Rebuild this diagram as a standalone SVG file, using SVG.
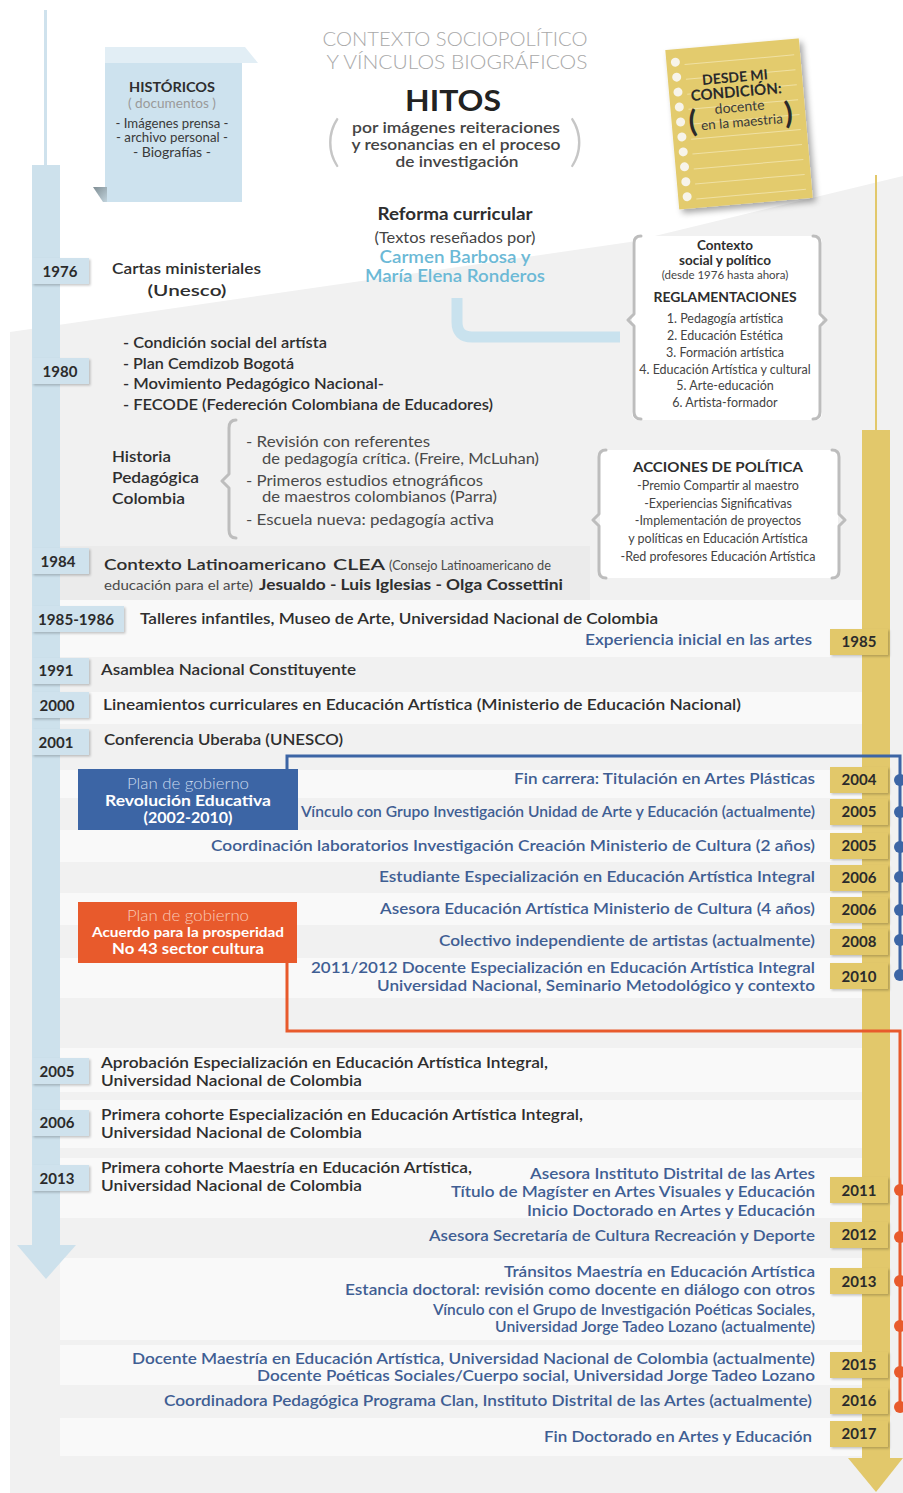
<svg xmlns="http://www.w3.org/2000/svg" width="903" height="1493" viewBox="0 0 903 1493">
<defs>
<style>
text{font-family:Lato,"Open Sans","Liberation Sans",sans-serif}
.dk{fill:#2e2e2e;font-weight:700;font-size:15.5px}
.md{fill:#2e2e2e;font-weight:600;font-size:15.5px}
.gr{fill:#4a4a4a;font-size:15.5px}
.sm{fill:#4a4a4a;font-size:13px}
.bl{fill:#3f5e93;font-weight:600;font-size:15.5px;text-anchor:end}
.yr{font-size:15px;font-weight:700;fill:#2b2b2b;text-anchor:middle}
.ybl{fill:#cfe2ed}
.yye{fill:#e2c86b}
.c{text-anchor:middle}
.brace{fill:none;stroke:#bdbdbd;stroke-width:3;stroke-linejoin:round;stroke-linecap:round}
.band{fill:#f9f9f9}
.dotb{fill:#3c65a5}
.doto{fill:#e85a2c}
.it{font-size:12.5px;fill:#444;text-anchor:middle}
</style>
<filter id="sh" x="-20%" y="-30%" width="150%" height="180%"><feDropShadow dx="1.5" dy="1.5" stdDeviation="1" flood-color="#000" flood-opacity="0.22"/></filter>
<filter id="nsh" x="-20%" y="-20%" width="150%" height="150%"><feDropShadow dx="3" dy="4" stdDeviation="3" flood-color="#000" flood-opacity="0.35"/></filter>
<linearGradient id="fold" x1="0" y1="0" x2="1" y2="1"><stop offset="0" stop-color="#7f8d93"/><stop offset="1" stop-color="#c2d4dd"/></linearGradient>
</defs>

<rect width="903" height="1493" fill="#ffffff"/>
<g id="background">
<polygon points="10,332 630,242 903,176 903,1493 10,1493" fill="#f1f1f1"/>
<rect x="60" y="546" width="530" height="54" fill="#ebebeb"/>
<rect class="band" x="60" y="600" width="802" height="57"/>
<rect class="band" x="60" y="692" width="802" height="32"/>
<rect class="band" x="60" y="770" width="802" height="28"/>
<rect class="band" x="60" y="830" width="802" height="32"/>
<rect class="band" x="60" y="893" width="802" height="32"/>
<rect class="band" x="60" y="958" width="802" height="40"/>
<rect class="band" x="60" y="1048" width="802" height="44"/>
<rect class="band" x="60" y="1100" width="802" height="48"/>
<rect class="band" x="60" y="1158" width="802" height="60"/>
<rect class="band" x="60" y="1258" width="802" height="82"/>
<rect class="band" x="60" y="1345" width="802" height="40"/>
<rect class="band" x="60" y="1418" width="802" height="38"/>
</g>

<g id="timeline-left">
<rect x="44" y="10" width="3" height="160" fill="#cfe2ed"/>
<rect x="32" y="165" width="28" height="1082" fill="#cde1ec"/>
<polygon points="17,1245 76,1245 46,1279" fill="#cde1ec"/>
</g>
<g id="timeline-right">
<rect x="875" y="175" width="2" height="260" fill="#e2c86b"/>
<rect x="862" y="430" width="28" height="1030" fill="#e2c86b"/>
<polygon points="848,1458 903,1458 876,1492" fill="#e2c86b"/>
</g>

<g id="connectors">
<path d="M457 298 V322 Q457 337 472 337 H620" fill="none" stroke="#c9e2ee" stroke-width="11"/>
<path d="M287 769 V756 H900 V978" fill="none" stroke="#3c65a5" stroke-width="3"/>
<path d="M287 963 V1031 H900 V1412" fill="none" stroke="#e85a2c" stroke-width="3"/>
<circle class="dotb" cx="900" cy="780" r="6"/>
<circle class="dotb" cx="900" cy="812" r="6"/>
<circle class="dotb" cx="900" cy="847" r="6"/>
<circle class="dotb" cx="900" cy="877" r="6"/>
<circle class="dotb" cx="900" cy="910" r="6"/>
<circle class="dotb" cx="900" cy="940" r="6"/>
<circle class="dotb" cx="900" cy="975" r="6"/>
<circle class="doto" cx="900" cy="1190" r="6"/>
<circle class="doto" cx="900" cy="1237" r="6"/>
<circle class="doto" cx="900" cy="1281" r="6"/>
<circle class="doto" cx="900" cy="1326" r="6"/>
<circle class="doto" cx="900" cy="1372" r="6"/>
<circle class="doto" cx="900" cy="1407" r="6"/>
</g>

<g id="historicos">
<polygon points="105,47 245,47 258,63 105,63" fill="#e2eef5"/>
<rect x="105" y="63" width="137" height="139" fill="#cde2ee"/>
<polygon points="93,187 107,187 107,202 103,202" fill="url(#fold)"/>
<text class="c" x="172" y="92" font-size="13.5" font-weight="700" fill="#2e2e2e" lengthAdjust="spacingAndGlyphs" textLength="86">HISTÓRICOS</text>
<text class="c" x="172" y="108" font-size="13" fill="#9a9a9a" lengthAdjust="spacingAndGlyphs" textLength="88">( documentos )</text>
<text class="c" x="172" y="128" font-size="12.5" fill="#3a3a3a" lengthAdjust="spacingAndGlyphs" textLength="113">- Imágenes prensa -</text>
<text class="c" x="172" y="142" font-size="12.5" fill="#3a3a3a" lengthAdjust="spacingAndGlyphs" textLength="112">- archivo personal -</text>
<text class="c" x="172" y="157" font-size="12.5" fill="#3a3a3a" lengthAdjust="spacingAndGlyphs" textLength="78">- Biografías -</text>
</g>

<g id="titulo">
<text class="c" x="455" y="46" font-size="19" font-weight="300" fill="#a9a9a9" lengthAdjust="spacingAndGlyphs" textLength="265">CONTEXTO SOCIOPOLÍTICO</text>
<text class="c" x="457" y="69" font-size="19" font-weight="300" fill="#a9a9a9" lengthAdjust="spacingAndGlyphs" textLength="261">Y VÍNCULOS BIOGRÁFICOS</text>
<text class="c" x="453" y="111" font-size="28" font-weight="700" fill="#222" lengthAdjust="spacingAndGlyphs" textLength="96">HITOS</text>
<text x="326" y="160" font-size="56" font-weight="300" fill="#c6c6c6">(</text>
<text x="569" y="160" font-size="56" font-weight="300" fill="#c6c6c6">)</text>
<text class="c" x="456" y="133" font-size="15.5" font-weight="600" fill="#444" lengthAdjust="spacingAndGlyphs" textLength="208">por  imágenes reiteraciones</text>
<text class="c" x="456" y="150" font-size="15.5" font-weight="600" fill="#444" lengthAdjust="spacingAndGlyphs" textLength="209">y resonancias en el proceso</text>
<text class="c" x="457" y="167" font-size="15.5" font-weight="600" fill="#444" lengthAdjust="spacingAndGlyphs" textLength="123">de investigación</text>
</g>

<g id="reforma">
<text class="c" x="455" y="220" font-size="16.5" font-weight="700" fill="#2e2e2e" lengthAdjust="spacingAndGlyphs" textLength="155">Reforma curricular</text>
<text class="c" x="455" y="243" font-size="15" fill="#444" lengthAdjust="spacingAndGlyphs" textLength="161">(Textos reseñados por)</text>
<text class="c" x="455" y="263" font-size="16.5" font-weight="600" fill="#6cb9d6" lengthAdjust="spacingAndGlyphs" textLength="151">Carmen Barbosa y</text>
<text class="c" x="455" y="282" font-size="16.5" font-weight="600" fill="#6cb9d6" lengthAdjust="spacingAndGlyphs" textLength="180">María Elena Ronderos</text>
</g>

<g id="nota">
<g transform="rotate(-5 738 124)">
<rect x="672" y="44" width="134" height="160" fill="#e3cb6d" filter="url(#nsh)"/>
<g stroke="#efe0a3" stroke-width="1">
<line x1="690" y1="60" x2="800" y2="60"/><line x1="690" y1="75" x2="800" y2="75"/><line x1="690" y1="90" x2="800" y2="90"/><line x1="690" y1="105" x2="800" y2="105"/><line x1="690" y1="120" x2="800" y2="120"/><line x1="690" y1="135" x2="800" y2="135"/><line x1="690" y1="150" x2="800" y2="150"/><line x1="690" y1="165" x2="800" y2="165"/><line x1="690" y1="180" x2="800" y2="180"/><line x1="690" y1="195" x2="800" y2="195"/>
</g>
<g fill="#f7f4ea">
<circle cx="681" cy="57" r="4.5"/><circle cx="681" cy="72" r="4.5"/><circle cx="681" cy="87" r="4.5"/><circle cx="681" cy="102" r="4.5"/><circle cx="681" cy="117" r="4.5"/><circle cx="681" cy="132" r="4.5"/><circle cx="681" cy="147" r="4.5"/><circle cx="681" cy="162" r="4.5"/><circle cx="681" cy="177" r="4.5"/><circle cx="681" cy="192" r="4.5"/>
</g>
<text class="c" x="739" y="82" font-size="14" font-weight="700" fill="#2a2a2a" font-family="'Liberation Serif',serif">DESDE MI</text>
<text class="c" x="739" y="97" font-size="15" font-weight="700" fill="#2a2a2a" font-family="'Liberation Serif',serif">CONDICIÓN:</text>
<text class="c" x="741" y="112" font-size="14" fill="#3a3a3a">docente</text>
<text class="c" x="742" y="127" font-size="13.5" fill="#3a3a3a">en la maestria</text>
<text x="689" y="128" font-size="30" font-weight="700" fill="#2a2a2a">(</text>
<text x="785" y="128" font-size="30" font-weight="700" fill="#2a2a2a">)</text>
</g>
</g>

<g id="contexto">
<rect x="632" y="236" width="190" height="184" rx="6" fill="#ffffff"/>
<path class="brace" d="M641 236 Q634 236 634 243 V314 L628 320 L634 326 V412 Q634 419 641 419"/>
<path class="brace" d="M813 236 Q820 236 820 243 V314 L826 320 L820 326 V412 Q820 419 813 419"/>
<text class="c" x="725" y="250" font-size="13.5" font-weight="700" fill="#2e2e2e">Contexto</text>
<text class="c" x="725" y="265" font-size="13.5" font-weight="700" fill="#2e2e2e">social y político</text>
<text class="c" x="725" y="279" font-size="11.5" fill="#444">(desde 1976 hasta ahora)</text>
<text class="c" x="725" y="302" font-size="14" font-weight="700" fill="#2e2e2e" lengthAdjust="spacingAndGlyphs" textLength="143">REGLAMENTACIONES</text>
<text class="it" x="725" y="323">1. Pedagogía artística</text>
<text class="it" x="725" y="340">2. Educación Estética</text>
<text class="it" x="725" y="357">3. Formación artística</text>
<text class="it" x="725" y="374">4. Educación Artística y cultural</text>
<text class="it" x="725" y="390">5. Arte-educación</text>
<text class="it" x="725" y="407">6. Artista-formador</text>
</g>

<g id="acciones">
<rect x="600" y="450" width="238" height="128" rx="6" fill="#ffffff"/>
<path class="brace" d="M606 450 Q599 450 599 457 V514 L593 520 L599 526 V571 Q599 578 606 578"/>
<path class="brace" d="M832 450 Q839 450 839 457 V514 L845 520 L839 526 V571 Q839 578 832 578"/>
<text class="c" x="718" y="472" font-size="14" font-weight="700" fill="#2e2e2e" lengthAdjust="spacingAndGlyphs" textLength="170">ACCIONES DE POLÍTICA</text>
<text class="it" x="718" y="490">-Premio Compartir al maestro</text>
<text class="it" x="718" y="508">-Experiencias Significativas</text>
<text class="it" x="718" y="525">-Implementación de proyectos</text>
<text class="it" x="718" y="543">y políticas en Educación Artística</text>
<text class="it" x="718" y="561">-Red profesores Educación Artística</text>
</g>

<g id="y1976">
<rect class="ybl" x="32" y="258" width="57" height="26" filter="url(#sh)"/>
<text class="yr" x="60" y="277">1976</text>
<text class="md" x="112" y="274" lengthAdjust="spacingAndGlyphs" textLength="149">Cartas ministeriales</text>
<text class="md c" x="187" y="296" font-size="18" lengthAdjust="spacingAndGlyphs" textLength="79">(Unesco)</text>
</g>
<g id="y1980">
<rect class="ybl" x="32" y="358" width="57" height="26" filter="url(#sh)"/>
<text class="yr" x="60" y="377">1980</text>
<text class="md" x="123" y="348" lengthAdjust="spacingAndGlyphs" textLength="204">- Condición social del artísta</text>
<text class="md" x="123" y="369" lengthAdjust="spacingAndGlyphs" textLength="171">- Plan Cemdizob Bogotá</text>
<text class="md" x="123" y="389" lengthAdjust="spacingAndGlyphs" textLength="261">- Movimiento Pedagógico Nacional-</text>
<text class="md" x="123" y="410" lengthAdjust="spacingAndGlyphs" textLength="370">- FECODE (Federeción Colombiana de Educadores)</text>
</g>
<g id="historia">
<text class="md" x="112" y="462" lengthAdjust="spacingAndGlyphs" textLength="59">Historia</text>
<text class="md" x="112" y="483" lengthAdjust="spacingAndGlyphs" textLength="87">Pedagógica</text>
<text class="md" x="112" y="504" lengthAdjust="spacingAndGlyphs" textLength="73">Colombia</text>
<path class="brace" d="M236 420 Q229 420 229 428 V474 L222 481 L229 488 V530 Q229 538 236 538"/>
<text class="gr" x="246" y="447" lengthAdjust="spacingAndGlyphs" textLength="184">- Revisión con referentes</text>
<text class="gr" x="262" y="464" lengthAdjust="spacingAndGlyphs" textLength="277">de pedagogía crítica. (Freire, McLuhan)</text>
<text class="gr" x="246" y="486" lengthAdjust="spacingAndGlyphs" textLength="237">- Primeros estudios etnográficos</text>
<text class="gr" x="262" y="502" lengthAdjust="spacingAndGlyphs" textLength="235">de maestros colombianos (Parra)</text>
<text class="gr" x="246" y="525" lengthAdjust="spacingAndGlyphs" textLength="248">- Escuela nueva: pedagogía activa</text>
</g>
<g id="y1984">
<rect class="ybl" x="32" y="548" width="57" height="26" filter="url(#sh)"/>
<text class="yr" x="58" y="567">1984</text>
<text class="md" x="104" y="570" lengthAdjust="spacingAndGlyphs" textLength="222">Contexto Latinoamericano</text>
<text class="md" x="333" y="570" font-size="20" lengthAdjust="spacingAndGlyphs" textLength="52">CLEA</text>
<text class="sm" x="389" y="570" lengthAdjust="spacingAndGlyphs" textLength="162">(Consejo Latinoamericano de</text>
<text class="sm" x="104" y="590" lengthAdjust="spacingAndGlyphs" textLength="149">educación para el arte)</text>
<text class="dk" x="259" y="590" lengthAdjust="spacingAndGlyphs" textLength="304">Jesualdo - Luis Iglesias - Olga Cossettini</text>
</g>
<g id="y1985-1986">
<rect class="ybl" x="32" y="606" width="92" height="26" filter="url(#sh)"/>
<text class="yr" x="76" y="625" lengthAdjust="spacingAndGlyphs" textLength="76">1985-1986</text>
<text class="md" x="140" y="624" lengthAdjust="spacingAndGlyphs" textLength="518">Talleres infantiles, Museo de Arte, Universidad Nacional de Colombia</text>
</g>
<g id="y1991">
<rect class="ybl" x="32" y="658" width="57" height="26" filter="url(#sh)"/>
<text class="yr" x="56" y="676">1991</text>
<text class="md" x="101" y="675" lengthAdjust="spacingAndGlyphs" textLength="255">Asamblea Nacional Constituyente</text>
</g>
<g id="y2000">
<rect class="ybl" x="32" y="692" width="57" height="26" filter="url(#sh)"/>
<text class="yr" x="57" y="711">2000</text>
<text class="md" x="103" y="710" lengthAdjust="spacingAndGlyphs" textLength="638">Lineamientos curriculares en Educación Artística (Ministerio de Educación Nacional)</text>
</g>
<g id="y2001">
<rect class="ybl" x="32" y="729" width="57" height="26" filter="url(#sh)"/>
<text class="yr" x="56" y="748">2001</text>
<text class="md" x="104" y="745" lengthAdjust="spacingAndGlyphs" textLength="239">Conferencia Uberaba (UNESCO)</text>
</g>

<g id="plan-revolucion">
<rect x="78" y="769" width="220" height="61" fill="#3c65a5"/>
<text class="c" x="188" y="789" font-size="15" font-weight="300" fill="#c9d9ee" lengthAdjust="spacingAndGlyphs" textLength="122">Plan de gobierno</text>
<text class="c" x="188" y="806" font-size="15.5" font-weight="700" fill="#ffffff" lengthAdjust="spacingAndGlyphs" textLength="166">Revolución  Educativa</text>
<text class="c" x="188" y="823" font-size="15.5" font-weight="700" fill="#ffffff" lengthAdjust="spacingAndGlyphs" textLength="89">(2002-2010)</text>
</g>
<g id="plan-prosperidad">
<rect x="78" y="902" width="219" height="61" fill="#e85a2c"/>
<text class="c" x="188" y="921" font-size="15" font-weight="300" fill="#f9c9b6" lengthAdjust="spacingAndGlyphs" textLength="122">Plan de gobierno</text>
<text class="c" x="188" y="937" font-size="14" font-weight="700" fill="#ffffff" lengthAdjust="spacingAndGlyphs" textLength="192">Acuerdo para la prosperidad</text>
<text class="c" x="188" y="954" font-size="15" font-weight="700" fill="#ffffff" lengthAdjust="spacingAndGlyphs" textLength="152">No 43 sector cultura</text>
</g>

<g id="y2005-izq">
<rect class="ybl" x="32" y="1058" width="57" height="26" filter="url(#sh)"/>
<text class="yr" x="57" y="1077">2005</text>
<text class="md" x="101" y="1068" lengthAdjust="spacingAndGlyphs" textLength="447">Aprobación Especialización en Educación Artística Integral,</text>
<text class="md" x="101" y="1086" lengthAdjust="spacingAndGlyphs" textLength="261">Universidad Nacional de Colombia</text>
</g>
<g id="y2006-izq">
<rect class="ybl" x="32" y="1110" width="57" height="26" filter="url(#sh)"/>
<text class="yr" x="57" y="1128">2006</text>
<text class="md" x="101" y="1120" lengthAdjust="spacingAndGlyphs" textLength="482">Primera cohorte Especialización en Educación Artística Integral,</text>
<text class="md" x="101" y="1138" lengthAdjust="spacingAndGlyphs" textLength="261">Universidad Nacional de Colombia</text>
</g>
<g id="y2013-izq">
<rect class="ybl" x="32" y="1165" width="57" height="26" filter="url(#sh)"/>
<text class="yr" x="57" y="1184">2013</text>
<text class="md" x="101" y="1173" lengthAdjust="spacingAndGlyphs" textLength="371">Primera cohorte Maestría  en Educación Artística,</text>
<text class="md" x="101" y="1191" lengthAdjust="spacingAndGlyphs" textLength="261">Universidad Nacional de Colombia</text>
</g>

<g id="r1985">
<rect class="yye" x="830" y="629" width="58" height="26" filter="url(#sh)"/>
<text class="yr" x="859" y="647">1985</text>
<text class="bl" x="812" y="645" lengthAdjust="spacingAndGlyphs" textLength="227">Experiencia inicial en las artes</text>
</g>
<g id="r2004">
<rect class="yye" x="830" y="767" width="58" height="26" filter="url(#sh)"/>
<text class="yr" x="859" y="785">2004</text>
<text class="bl" x="815" y="784" lengthAdjust="spacingAndGlyphs" textLength="301">Fin carrera: Titulación en Artes Plásticas</text>
</g>
<g id="r2005a">
<rect class="yye" x="830" y="799" width="58" height="26" filter="url(#sh)"/>
<text class="yr" x="859" y="817">2005</text>
<text class="bl" x="815" y="817" lengthAdjust="spacingAndGlyphs" textLength="514">Vínculo con Grupo Investigación Unidad de Arte y Educación (actualmente)</text>
</g>
<g id="r2005b">
<rect class="yye" x="830" y="833" width="58" height="26" filter="url(#sh)"/>
<text class="yr" x="859" y="851">2005</text>
<text class="bl" x="815" y="851" lengthAdjust="spacingAndGlyphs" textLength="604">Coordinación laboratorios Investigación Creación Ministerio de Cultura (2 años)</text>
</g>
<g id="r2006a">
<rect class="yye" x="830" y="865" width="58" height="26" filter="url(#sh)"/>
<text class="yr" x="859" y="883">2006</text>
<text class="bl" x="815" y="882" lengthAdjust="spacingAndGlyphs" textLength="436">Estudiante Especialización en Educación Artística Integral</text>
</g>
<g id="r2006b">
<rect class="yye" x="830" y="897" width="58" height="26" filter="url(#sh)"/>
<text class="yr" x="859" y="915">2006</text>
<text class="bl" x="815" y="914" lengthAdjust="spacingAndGlyphs" textLength="435">Asesora Educación Artística Ministerio de Cultura (4 años)</text>
</g>
<g id="r2008">
<rect class="yye" x="830" y="929" width="58" height="26" filter="url(#sh)"/>
<text class="yr" x="859" y="947">2008</text>
<text class="bl" x="815" y="946" lengthAdjust="spacingAndGlyphs" textLength="376">Colectivo independiente de artistas (actualmente)</text>
</g>
<g id="r2010">
<rect class="yye" x="830" y="963" width="58" height="26" filter="url(#sh)"/>
<text class="yr" x="859" y="982">2010</text>
<text class="bl" x="815" y="973" lengthAdjust="spacingAndGlyphs" textLength="504">2011/2012  Docente Especialización en Educación Artística Integral</text>
<text class="bl" x="815" y="991" lengthAdjust="spacingAndGlyphs" textLength="438">Universidad Nacional, Seminario Metodológico y contexto</text>
</g>
<g id="r2011">
<rect class="yye" x="830" y="1177" width="58" height="26" filter="url(#sh)"/>
<text class="yr" x="859" y="1196">2011</text>
<text class="bl" x="815" y="1179" lengthAdjust="spacingAndGlyphs" textLength="285">Asesora  Instituto Distrital de las Artes</text>
<text class="bl" x="815" y="1197" lengthAdjust="spacingAndGlyphs" textLength="364">Título de Magíster en Artes Visuales y Educación</text>
<text class="bl" x="815" y="1216" lengthAdjust="spacingAndGlyphs" textLength="288">Inicio Doctorado en Artes y Educación</text>
</g>
<g id="r2012">
<rect class="yye" x="830" y="1222" width="58" height="26" filter="url(#sh)"/>
<text class="yr" x="859" y="1240">2012</text>
<text class="bl" x="815" y="1241" lengthAdjust="spacingAndGlyphs" textLength="386">Asesora Secretaría de Cultura Recreación y Deporte</text>
</g>
<g id="r2013">
<rect class="yye" x="830" y="1268" width="58" height="26" filter="url(#sh)"/>
<text class="yr" x="859" y="1287">2013</text>
<text class="bl" x="815" y="1277" lengthAdjust="spacingAndGlyphs" textLength="311">Tránsitos Maestría en Educación Artística</text>
<text class="bl" x="815" y="1295" lengthAdjust="spacingAndGlyphs" textLength="470">Estancia doctoral: revisión como docente en diálogo con otros</text>
<text class="bl" x="815" y="1315" font-size="13.5" lengthAdjust="spacingAndGlyphs" textLength="382">Vínculo con el Grupo de Investigación Poéticas Sociales,</text>
<text class="bl" x="815" y="1332" font-size="13.5" lengthAdjust="spacingAndGlyphs" textLength="320">Universidad Jorge Tadeo Lozano (actualmente)</text>
</g>
<g id="r2015">
<rect class="yye" x="830" y="1352" width="58" height="26" filter="url(#sh)"/>
<text class="yr" x="859" y="1370">2015</text>
<text class="bl" x="815" y="1364" lengthAdjust="spacingAndGlyphs" textLength="683">Docente Maestría en Educación Artística, Universidad Nacional de Colombia (actualmente)</text>
<text class="bl" x="815" y="1381" lengthAdjust="spacingAndGlyphs" textLength="558">Docente Poéticas Sociales/Cuerpo social, Universidad Jorge Tadeo Lozano</text>
</g>
<g id="r2016">
<rect class="yye" x="830" y="1388" width="58" height="26" filter="url(#sh)"/>
<text class="yr" x="859" y="1406">2016</text>
<text class="bl" x="812" y="1406" lengthAdjust="spacingAndGlyphs" textLength="648">Coordinadora Pedagógica Programa Clan, Instituto Distrital de las Artes (actualmente)</text>
</g>
<g id="r2017">
<rect class="yye" x="830" y="1421" width="58" height="26" filter="url(#sh)"/>
<text class="yr" x="859" y="1439">2017</text>
<text class="bl" x="812" y="1442" lengthAdjust="spacingAndGlyphs" textLength="268">Fin Doctorado en Artes y Educación</text>
</g>
</svg>
